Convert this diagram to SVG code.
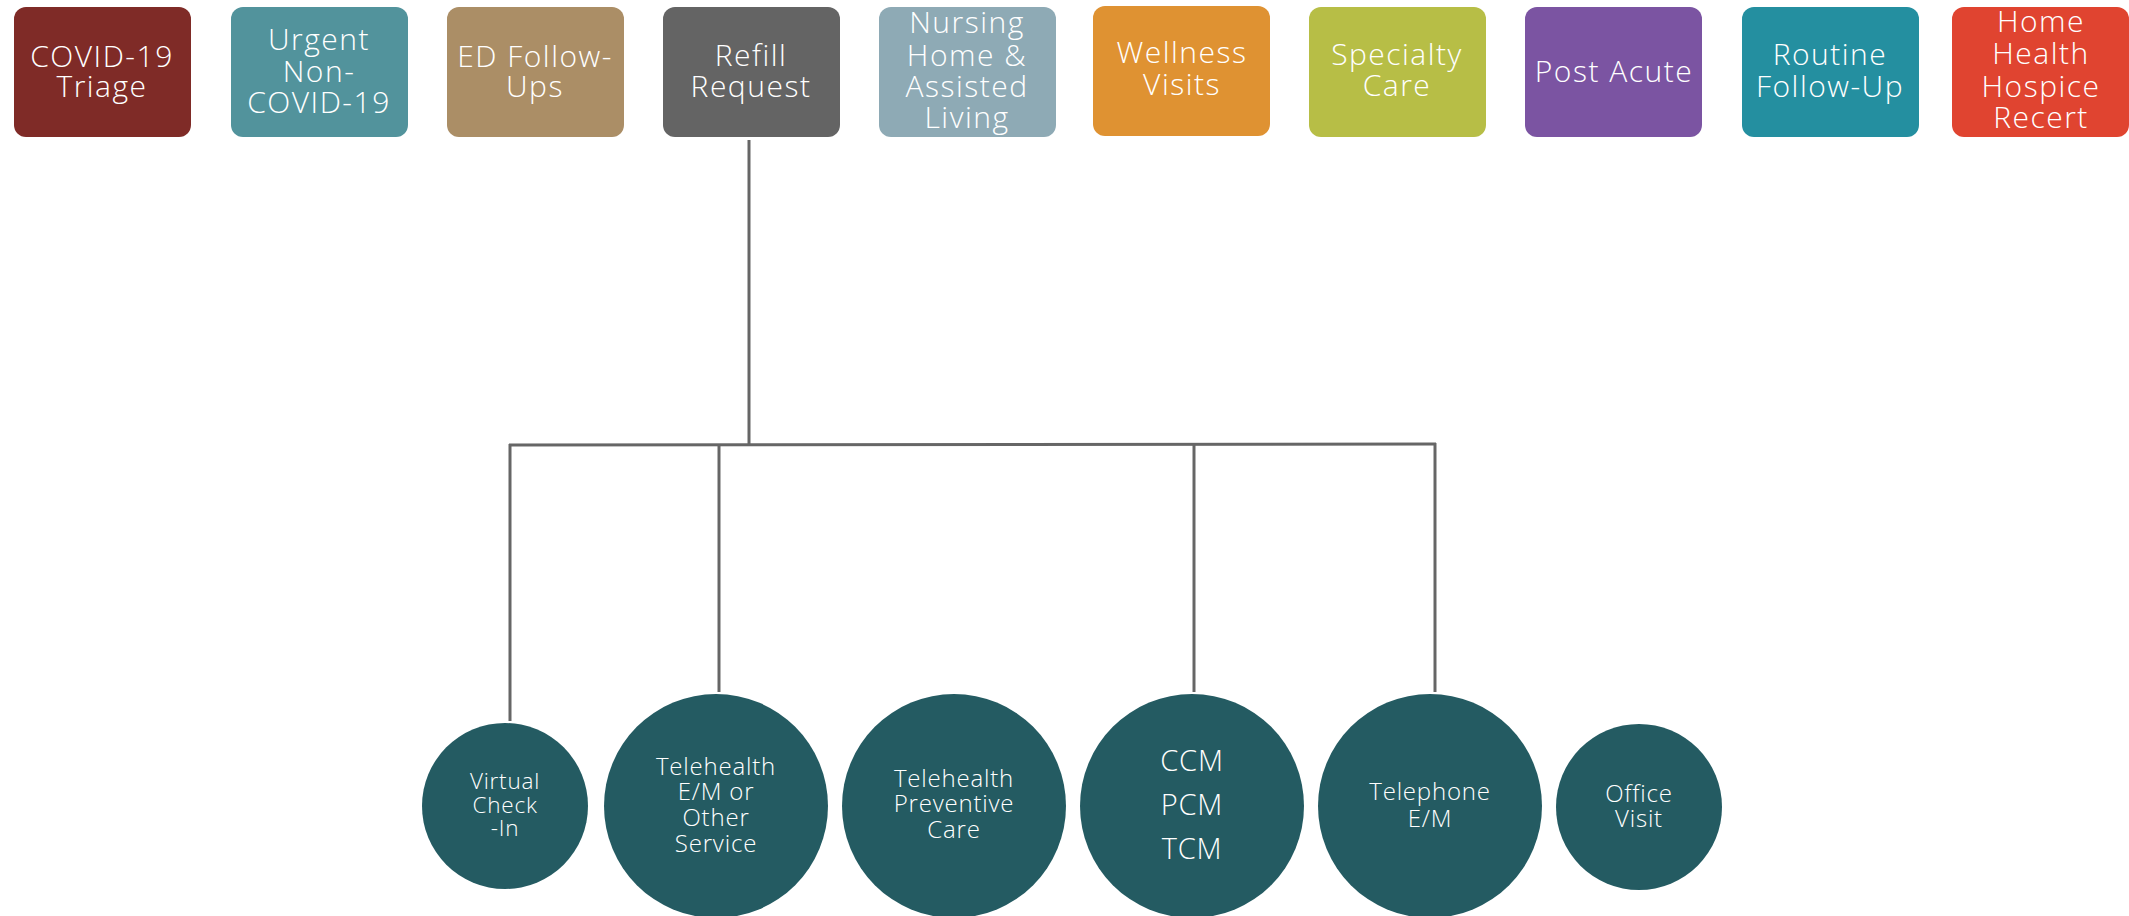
<svg xmlns="http://www.w3.org/2000/svg" width="2129" height="916" viewBox="0 0 2129 916">
<style>
.box{stroke:none}
.bt{font-family:"Open Sans","Liberation Sans",sans-serif;font-weight:300;font-size:30px;fill:#fff;text-anchor:middle;letter-spacing:1.5px}
.ct{font-family:"Open Sans","Liberation Sans",sans-serif;font-weight:300;fill:#fff;text-anchor:middle;letter-spacing:0.8px}
.circ{fill:#245b62}
.conn{stroke:#666;stroke-width:3;fill:none}
</style>
<rect width="2129" height="916" fill="#fff"/>
<g id="connectors">
<line class="conn" x1="749" y1="140" x2="749" y2="445"/>
<line class="conn" x1="509" y1="445" x2="1436" y2="444" stroke-width="4"/>
<line class="conn" x1="510" y1="444" x2="510" y2="721"/>
<line class="conn" x1="719" y1="444" x2="719" y2="692"/>
<line class="conn" x1="1194" y1="444" x2="1194" y2="692"/>
<line class="conn" x1="1435" y1="443" x2="1435" y2="692"/>
</g>
<g id="n1"><rect class="box" x="14" y="7" width="177" height="130" rx="12" fill="#7f2b27"/><text class="bt"><tspan x="102" y="67">COVID-19</tspan><tspan x="102" y="97">Triage</tspan></text></g>
<g id="n2"><rect class="box" x="231" y="7" width="177" height="130" rx="12" fill="#52939c"/><text class="bt"><tspan x="319" y="50">Urgent</tspan><tspan x="319" y="82">Non-</tspan><tspan x="319" y="113">COVID-19</tspan></text></g>
<g id="n3"><rect class="box" x="447" y="7" width="177" height="130" rx="12" fill="#ab8e66"/><text class="bt"><tspan x="535" y="67">ED Follow-</tspan><tspan x="535" y="97">Ups</tspan></text></g>
<g id="n4"><rect class="box" x="663" y="7" width="177" height="130" rx="12" fill="#646464"/><text class="bt"><tspan x="751" y="66">Refill</tspan><tspan x="751" y="97">Request</tspan></text></g>
<g id="n5"><rect class="box" x="879" y="7" width="177" height="130" rx="12" fill="#8eaab5"/><text class="bt"><tspan x="967" y="33">Nursing</tspan><tspan x="967" y="66">Home &amp;</tspan><tspan x="967" y="97">Assisted</tspan><tspan x="967" y="128">Living</tspan></text></g>
<g id="n6"><rect class="box" x="1093" y="6" width="177" height="130" rx="12" fill="#df9232"/><text class="bt"><tspan x="1182" y="63">Wellness</tspan><tspan x="1182" y="95">Visits</tspan></text></g>
<g id="n7"><rect class="box" x="1309" y="7" width="177" height="130" rx="12" fill="#b7be46"/><text class="bt"><tspan x="1397" y="65">Specialty</tspan><tspan x="1397" y="96">Care</tspan></text></g>
<g id="n8"><rect class="box" x="1525" y="7" width="177" height="130" rx="12" fill="#7b54a2"/><text class="bt"><tspan x="1614" y="82">Post Acute</tspan></text></g>
<g id="n9"><rect class="box" x="1742" y="7" width="177" height="130" rx="12" fill="#248fa0"/><text class="bt"><tspan x="1830" y="65">Routine</tspan><tspan x="1830" y="97">Follow-Up</tspan></text></g>
<g id="n10"><rect class="box" x="1952" y="7" width="177" height="130" rx="12" fill="#e04430"/><text class="bt"><tspan x="2041" y="32">Home</tspan><tspan x="2041" y="64">Health</tspan><tspan x="2041" y="97">Hospice</tspan><tspan x="2041" y="128">Recert</tspan></text></g>
<g id="c1"><circle class="circ" cx="505" cy="806" r="83"/><text class="ct" font-size="22.5"><tspan x="505" y="789">Virtual</tspan><tspan x="505" y="813">Check</tspan><tspan x="505" y="836">-In</tspan></text></g>
<g id="c2"><circle class="circ" cx="716" cy="806" r="112"/><text class="ct" font-size="24"><tspan x="716" y="775">Telehealth</tspan><tspan x="716" y="800">E/M or</tspan><tspan x="716" y="826">Other</tspan><tspan x="716" y="852">Service</tspan></text></g>
<g id="c3"><circle class="circ" cx="954" cy="806" r="112"/><text class="ct" font-size="24"><tspan x="954" y="787">Telehealth</tspan><tspan x="954" y="812">Preventive</tspan><tspan x="954" y="838">Care</tspan></text></g>
<g id="c4"><circle class="circ" cx="1192" cy="806" r="112"/><text class="ct" font-size="29" letter-spacing="1.5"><tspan x="1192" y="771">CCM</tspan><tspan x="1192" y="815">PCM</tspan><tspan x="1192" y="859">TCM</tspan></text></g>
<g id="c5"><circle class="circ" cx="1430" cy="806" r="112"/><text class="ct" font-size="24"><tspan x="1430" y="800">Telephone</tspan><tspan x="1430" y="827">E/M</tspan></text></g>
<g id="c6"><circle class="circ" cx="1639" cy="807" r="83"/><text class="ct" font-size="24"><tspan x="1639" y="802">Office</tspan><tspan x="1639" y="827">Visit</tspan></text></g>
</svg>
